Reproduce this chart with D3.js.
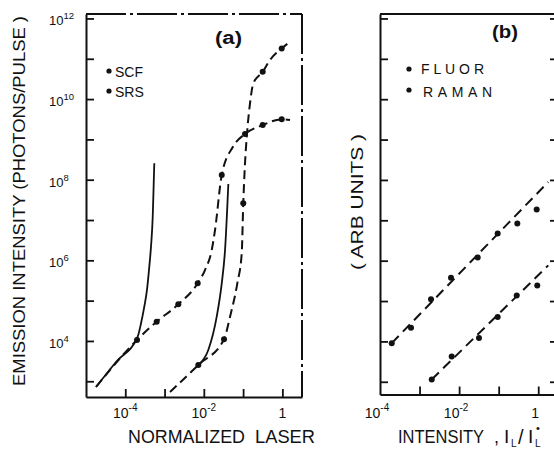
<!DOCTYPE html>
<html>
<head>
<meta charset="utf-8">
<script src="https://cdn.jsdelivr.net/npm/d3@7"></script>
<style>
  html, body { margin: 0; padding: 0; background: #fff; }
  svg { display: block; }
  text { font-family: "Liberation Sans", Arial, sans-serif; fill: #111; }
</style>
</head>
<body>
<svg id="chart" width="554" height="449"></svg>
<script>
// ---------------- data ----------------
// Panel (a): emission (photons/pulse) against normalized laser intensity I_L / I_L°
// SCF: upper dashed curve, saturating near 3e11
const scfCurve = [
  [1.38e-3, 5.42e2], [7.24e-3, 2.54e3], [3.27e-2, 1.10e4], [4.65e-2, 4.00e4],
  [7.13e-2, 2.69e5], [9.23e-2, 1.49e6], [0.101, 2.59e7], [0.112, 2.59e8],
  [0.124, 1.16e9], [0.150, 7.83e9], [0.182, 2.45e10], [0.316, 4.76e10],
  [0.484, 9.29e10], [0.962, 1.81e11], [1.567, 2.64e11]
];
const scfPoints = [
  [7.24e-3, 2.54e3], [3.27e-2, 1.10e4], [0.101, 2.59e7], [0.316, 4.76e10], [0.962, 1.81e11]
];
// SRS: lower dashed curve, saturating near 3e9
const srsCurve = [
  [1.80e-5, 7.21e2], [1.99e-4, 1.06e4], [6.31e-4, 3.01e4], [2.24e-3, 8.11e4],
  [6.98e-3, 2.69e5], [1.07e-2, 5.75e5], [1.59e-2, 1.80e6], [1.93e-2, 5.65e6],
  [2.86e-2, 1.31e8], [5.53e-2, 6.58e8], [0.112, 1.36e9], [0.316, 2.27e9],
  [0.962, 3.14e9], [1.567, 3.02e9]
];
const srsPoints = [
  [1.99e-4, 1.06e4], [6.31e-4, 3.01e4], [2.24e-3, 8.11e4], [6.98e-3, 2.69e5],
  [2.86e-2, 1.31e8], [0.112, 1.36e9], [0.316, 2.27e9], [0.962, 3.14e9]
];
// Solid model curves
const modelLow = [
  [1.80e-5, 7.21e2], [5.81e-5, 3.01e3], [2.07e-4, 1.28e4], [2.52e-4, 2.74e4],
  [3.05e-4, 7.08e4], [3.57e-4, 1.84e5], [4.09e-4, 6.95e5], [4.52e-4, 2.18e6],
  [5.00e-4, 1.21e7], [5.30e-4, 8.13e7], [5.48e-4, 2.55e8]
];
const modelHigh = [
  [7.24e-3, 2.54e3], [1.30e-2, 5.97e3], [2.13e-2, 4.00e4], [2.86e-2, 2.69e5],
  [3.47e-2, 1.80e6], [4.21e-2, 7.82e7]
];

// Panel (b): fluorescence and Raman signal (arbitrary units)
const fluorPoints = [
  [1.98e-4, 9.06e3], [6.08e-4, 2.18e4], [1.95e-3, 1.10e5], [6.24e-3, 3.79e5],
  [2.95e-2, 1.19e6], [9.44e-2, 4.69e6], [0.296, 8.30e6], [0.914, 1.85e7]
];
const fluorFit = [[1.98e-4, 9.06e3], [1.795, 8.91e7]];
const ramanPoints = [
  [2.03e-3, 1.14e3], [6.49e-3, 4.24e3], [3.18e-2, 1.21e4], [9.44e-2, 4.00e4],
  [0.286, 1.38e5], [0.946, 2.44e5]
];
const ramanFit = [[2.03e-3, 1.14e3], [1.795, 7.66e5]];

// Ticks and tick labels
const yTickValues = [1e3, 1e4, 1e5, 1e6, 1e7, 1e8, 1e9, 1e10, 1e11, 1e12];
const yLabelValues = [1e4, 1e6, 1e8, 1e10, 1e12];
const yLabelSups = ["4", "6", "8", "10", "12"];
const xTickValuesA = [1e-4, 1e-3, 1e-2, 1e-1, 1];
const xTickValuesB = [1e-3, 1e-2, 1e-1, 1];
const xLabelValues = [1e-4, 1e-2, 1];
const xLabelBase = ["10", "10", "1"];
const xLabelSups = ["-4", "-2", ""];

// ---------------- drawing ----------------
const svg = d3.select("#chart");
svg.append("rect").attr("width", 554).attr("height", 449).attr("fill", "#fff");

const INK = "#111";

const xA = d3.scaleLog().domain([1e-5, 3.162]).range([86, 302]);
const yA = d3.scaleLog().domain([407, 1.29e12]).range([397, 14]);
const xB = d3.scaleLog().domain([1e-4, 3.162]).range([380, 558]);
const yB = d3.scaleLog().domain([484, 1.29e12]).range([394.5, 14]);

function styleAxis(g) {
  g.select(".domain").attr("stroke", INK).attr("stroke-width", 2);
  g.selectAll(".tick line").attr("stroke", INK).attr("stroke-width", 1.8);
}
const blank = () => "";

// ---- panel (a) frame ----
const pa = svg.append("g");
pa.append("g").attr("transform", "translate(86,0)")
  .call(d3.axisRight(yA).tickValues(yTickValues).tickSize(8).tickSizeOuter(0).tickFormat(blank))
  .call(styleAxis);
pa.append("g").attr("transform", "translate(0,397)")
  .call(d3.axisTop(xA).tickValues(xTickValuesA).tickSize(8).tickSizeOuter(0).tickFormat(blank))
  .call(styleAxis);
pa.append("line").attr("x1", 86).attr("x2", 302).attr("y1", 14).attr("y2", 14)
  .attr("stroke", INK).attr("stroke-width", 2).attr("stroke-dasharray", "40,4,3,4");
pa.append("line").attr("x1", 302).attr("x2", 302).attr("y1", 14).attr("y2", 397)
  .attr("stroke", INK).attr("stroke-width", 2).attr("stroke-dasharray", "40,4,3,4");

// y tick labels (a)
const yl = pa.append("g").selectAll("text").data(yLabelValues).join("text")
  .attr("x", 49).attr("y", d => yA(d) + 7).attr("font-size", 13);
yl.append("tspan").text("10");
yl.append("tspan").attr("dy", -6).attr("font-size", 9.5).text((d, i) => yLabelSups[i]);

// x tick labels (a)
const xla = pa.append("g").selectAll("text").data(xLabelValues).join("text")
  .attr("x", d => xA(d)).attr("y", 418).attr("font-size", 14).attr("text-anchor", "middle");
xla.append("tspan").text((d, i) => xLabelBase[i]);
xla.append("tspan").attr("dy", -7).attr("font-size", 10).text((d, i) => xLabelSups[i]);

// curves (a)
const lineA = d3.line().x(d => xA(d[0])).y(d => yA(d[1])).curve(d3.curveMonotoneX);
pa.append("path").attr("d", lineA(modelLow)).attr("fill", "none").attr("stroke", INK).attr("stroke-width", 1.8);
pa.append("path").attr("d", lineA(modelHigh)).attr("fill", "none").attr("stroke", INK).attr("stroke-width", 1.8);
pa.append("path").attr("d", lineA(srsCurve)).attr("fill", "none").attr("stroke", INK)
  .attr("stroke-width", 2).attr("stroke-dasharray", "9,5");
pa.append("path").attr("d", lineA(scfCurve)).attr("fill", "none").attr("stroke", INK)
  .attr("stroke-width", 2).attr("stroke-dasharray", "9,5");
pa.append("g").selectAll("circle").data(srsPoints.concat(scfPoints)).join("circle")
  .attr("cx", d => xA(d[0])).attr("cy", d => yA(d[1])).attr("r", 3).attr("fill", INK);

// legend + panel tag (a)
pa.append("circle").attr("cx", 109).attr("cy", 71).attr("r", 2.6).attr("fill", INK);
pa.append("circle").attr("cx", 109).attr("cy", 91).attr("r", 2.6).attr("fill", INK);
pa.append("text").attr("x", 115).attr("y", 76.5).attr("font-size", 14).text("SCF");
pa.append("text").attr("x", 115).attr("y", 97).attr("font-size", 14).text("SRS");
pa.append("text").attr("x", 215).attr("y", 44).attr("font-size", 18).attr("font-weight", "bold")
  .attr("textLength", 27).attr("lengthAdjust", "spacingAndGlyphs").text("(a)");

// y title (a)
pa.append("text").attr("transform", "translate(25,201) rotate(-90)")
  .attr("text-anchor", "middle").attr("font-size", 16)
  .attr("textLength", 370).attr("lengthAdjust", "spacingAndGlyphs")
  .text("EMISSION INTENSITY (PHOTONS/PULSE )");

// ---- panel (b) frame ----
const pb = svg.append("g");
pb.append("g").attr("transform", "translate(380,0)")
  .call(d3.axisRight(yB).tickValues(yTickValues).tickSize(8).tickSizeOuter(0).tickFormat(blank))
  .call(styleAxis);
pb.append("g").attr("transform", "translate(558,0)")
  .call(d3.axisLeft(yB).tickValues(yTickValues).tickSize(8).tickSizeOuter(0).tickFormat(blank))
  .call(styleAxis);
pb.append("g").attr("transform", "translate(0,394.5)")
  .call(d3.axisTop(xB).tickValues(xTickValuesB).tickSize(8).tickSizeOuter(0).tickFormat(blank))
  .call(styleAxis);
pb.append("line").attr("x1", 380).attr("x2", 558).attr("y1", 14).attr("y2", 14)
  .attr("stroke", INK).attr("stroke-width", 2);

// x tick labels (b)
const xlb = pb.append("g").selectAll("text").data(xLabelValues).join("text")
  .attr("x", d => xB(d) - 3).attr("y", 418).attr("font-size", 14).attr("text-anchor", "middle");
xlb.append("tspan").text((d, i) => xLabelBase[i]);
xlb.append("tspan").attr("dy", -7).attr("font-size", 10).text((d, i) => xLabelSups[i]);

// lines and points (b)
const lineB = d3.line().x(d => xB(d[0])).y(d => yB(d[1]));
pb.append("path").attr("d", lineB(fluorFit)).attr("fill", "none").attr("stroke", INK)
  .attr("stroke-width", 2).attr("stroke-dasharray", "10,6");
pb.append("path").attr("d", lineB(ramanFit)).attr("fill", "none").attr("stroke", INK)
  .attr("stroke-width", 2).attr("stroke-dasharray", "10,6");
pb.append("g").selectAll("circle").data(fluorPoints.concat(ramanPoints)).join("circle")
  .attr("cx", d => xB(d[0])).attr("cy", d => yB(d[1])).attr("r", 3).attr("fill", INK);

// legend + panel tag (b)
pb.append("circle").attr("cx", 409).attr("cy", 69).attr("r", 2.6).attr("fill", INK);
pb.append("circle").attr("cx", 409).attr("cy", 90).attr("r", 2.6).attr("fill", INK);
pb.append("text").attr("x", 421).attr("y", 74).attr("font-size", 14)
  .attr("textLength", 63).attr("lengthAdjust", "spacing").text("FLUOR");
pb.append("text").attr("x", 423).attr("y", 97).attr("font-size", 14)
  .attr("textLength", 69).attr("lengthAdjust", "spacing").text("RAMAN");
pb.append("text").attr("x", 492).attr("y", 38).attr("font-size", 18).attr("font-weight", "bold")
  .attr("textLength", 26).attr("lengthAdjust", "spacingAndGlyphs").text("(b)");

// y title (b)
pb.append("text").attr("transform", "translate(363,202) rotate(-90)")
  .attr("text-anchor", "middle").attr("font-size", 17)
  .attr("textLength", 136).attr("lengthAdjust", "spacingAndGlyphs")
  .text("( ARB  UNITS )");

// ---- shared x title ----
const xt = svg.append("g").attr("font-size", 18);
xt.append("text").attr("x", 128).attr("y", 443).attr("textLength", 117)
  .attr("lengthAdjust", "spacingAndGlyphs").text("NORMALIZED");
xt.append("text").attr("x", 255).attr("y", 443).attr("textLength", 60)
  .attr("lengthAdjust", "spacingAndGlyphs").text("LASER");
xt.append("text").attr("x", 398).attr("y", 443).attr("textLength", 86)
  .attr("lengthAdjust", "spacingAndGlyphs").text("INTENSITY");
xt.append("text").attr("x", 494).attr("y", 443).text(",");
const serif = "'Liberation Serif', 'DejaVu Serif', serif";
xt.append("text").attr("x", 504).attr("y", 443).attr("font-family", serif).attr("font-size", 19).text("I");
xt.append("text").attr("x", 511).attr("y", 447).attr("font-size", 10).text("L");
xt.append("text").attr("x", 518).attr("y", 444).attr("font-size", 20).text("/");
xt.append("text").attr("x", 528).attr("y", 443).attr("font-family", serif).attr("font-size", 19).text("I");
xt.append("text").attr("x", 535).attr("y", 447).attr("font-size", 10).text("L");
xt.append("text").attr("x", 536).attr("y", 432).attr("font-size", 11).text("•");
</script>
</body>
</html>
